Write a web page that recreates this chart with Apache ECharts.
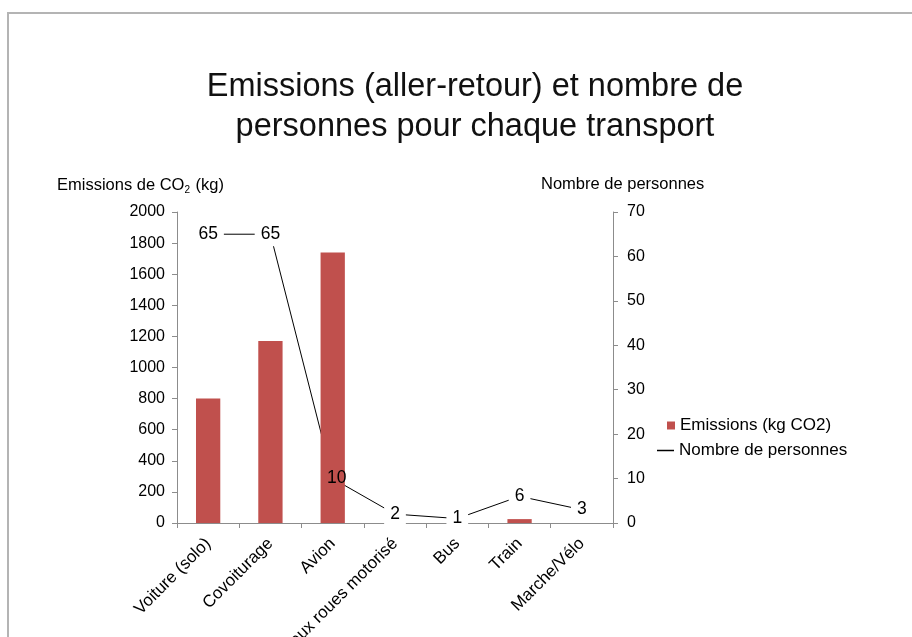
<!DOCTYPE html>
<html>
<head>
<meta charset="utf-8">
<script src="https://cdn.jsdelivr.net/npm/echarts@6/dist/echarts.min.js"></script>
<style>
  html, body { margin: 0; padding: 0; background: #fff; }
  #chart { width: 912px; height: 637px; }
</style>
</head>
<body>
<div id="chart"></div>
<script>
const categories = ['Voiture (solo)', 'Covoiturage', 'Avion', 'Deux roues motorisé', 'Bus', 'Train', 'Marche/Vélo']
const emissions = [800, 1170, 1740, 0, 0, 25, 0] // kg CO2
const personnes = [65, 65, 10, 2, 1, 6, 3]

const FONT = '"Liberation Sans", Arial, sans-serif'
const axisGray = '#8c8c8c'

const chart = echarts.init(document.getElementById('chart'))

// the label sitting on the Avion bar keeps the bar visible behind it
const labelData = personnes.map((v, i) => (
  emissions[i] > v * 2000 / 70 ? { value: v, label: { backgroundColor: 'transparent', offset: [4, 0] } } : v
))

chart.setOption({
  animation: false,
  textStyle: { fontFamily: FONT, color: '#000' },
  graphic: [
    // frame around the chart
    { type: 'rect', shape: { x: 8, y: 13, width: 1000, height: 1000 }, style: { fill: 'none', stroke: '#b4b4b4', lineWidth: 2 } }
  ],
  title: [
    {
      text: 'Emissions (aller-retour) et nombre de\npersonnes pour chaque transport',
      left: 470, top: 62, textAlign: 'center',
      textStyle: { fontSize: 32.5, fontWeight: 'normal', color: '#111', lineHeight: 40, fontFamily: FONT }
    },
    {
      text: 'Emissions de CO{sub|2} (kg)',
      left: 57, top: 176, padding: 0,
      textStyle: {
        fontSize: 16.5, fontWeight: 'normal', color: '#000', fontFamily: FONT,
        rich: { sub: { fontSize: 10, verticalAlign: 'bottom', padding: [9, 1, 0, 0], fontFamily: FONT } }
      }
    },
    {
      text: 'Nombre de personnes',
      left: 541, top: 176, padding: 0,
      textStyle: { fontSize: 16.5, fontWeight: 'normal', color: '#000', fontFamily: FONT }
    }
  ],
  legend: [
    {
      data: [{ name: 'Emissions (kg CO2)', icon: 'rect' }],
      left: 667, top: 417, padding: 0,
      itemWidth: 8, itemHeight: 8, itemGap: 4,
      textStyle: { fontSize: 17, color: '#000', fontFamily: FONT }
    },
    {
      data: [{ name: 'Nombre de personnes', icon: 'rect' }],
      left: 657, top: 442, padding: 0,
      itemWidth: 17, itemHeight: 1.5,
      textStyle: { fontSize: 17, color: '#000', fontFamily: FONT }
    }
  ],
  grid: { left: 177, right: 299, top: 212, bottom: 114, outerBoundsMode: 'none', containLabel: false },
  xAxis: {
    type: 'category',
    data: categories,
    axisLine: { lineStyle: { color: axisGray } },
    axisTick: { show: true, length: 5, lineStyle: { color: axisGray } },
    axisLabel: { rotate: 45, fontSize: 17, color: '#000', margin: 18, interval: 0, fontFamily: FONT }
  },
  yAxis: [
    {
      type: 'value', min: 0, max: 2000, interval: 200,
      axisLine: { show: true, lineStyle: { color: axisGray } },
      axisTick: { show: true, length: 5, lineStyle: { color: axisGray } },
      axisLabel: { fontSize: 16, color: '#000', margin: 12, fontFamily: FONT, formatter: v => String(v) },
      splitLine: { show: false }
    },
    {
      type: 'value', min: 0, max: 70, interval: 10,
      axisLine: { show: true, lineStyle: { color: axisGray } },
      axisTick: { show: true, length: 5, lineStyle: { color: axisGray } },
      axisLabel: { fontSize: 16, color: '#000', margin: 14, fontFamily: FONT, formatter: v => String(v) },
      splitLine: { show: false }
    }
  ],
  series: [
    {
      name: 'Emissions (kg CO2)',
      type: 'bar',
      data: emissions,
      barWidth: '39%',
      itemStyle: { color: '#c0504d' },
      z: 2
    },
    {
      // line runs behind the bars, as in the original
      name: 'Nombre de personnes',
      type: 'line',
      yAxisIndex: 1,
      data: personnes,
      symbol: 'none',
      itemStyle: { color: '#000' },
      lineStyle: { color: '#000', width: 1 },
      z: 1
    },
    {
      // data labels of the line, drawn above everything
      name: 'labels',
      type: 'scatter',
      yAxisIndex: 1,
      data: labelData,
      symbolSize: 0,
      silent: true,
      itemStyle: { opacity: 1, color: '#000' },
      label: {
        show: true,
        position: 'inside',
        fontSize: 17.5,
        color: '#000',
        fontFamily: FONT,
        backgroundColor: '#fff',
        padding: [3, 6]
      },
      z: 5
    }
  ]
})
</script>
</body>
</html>
